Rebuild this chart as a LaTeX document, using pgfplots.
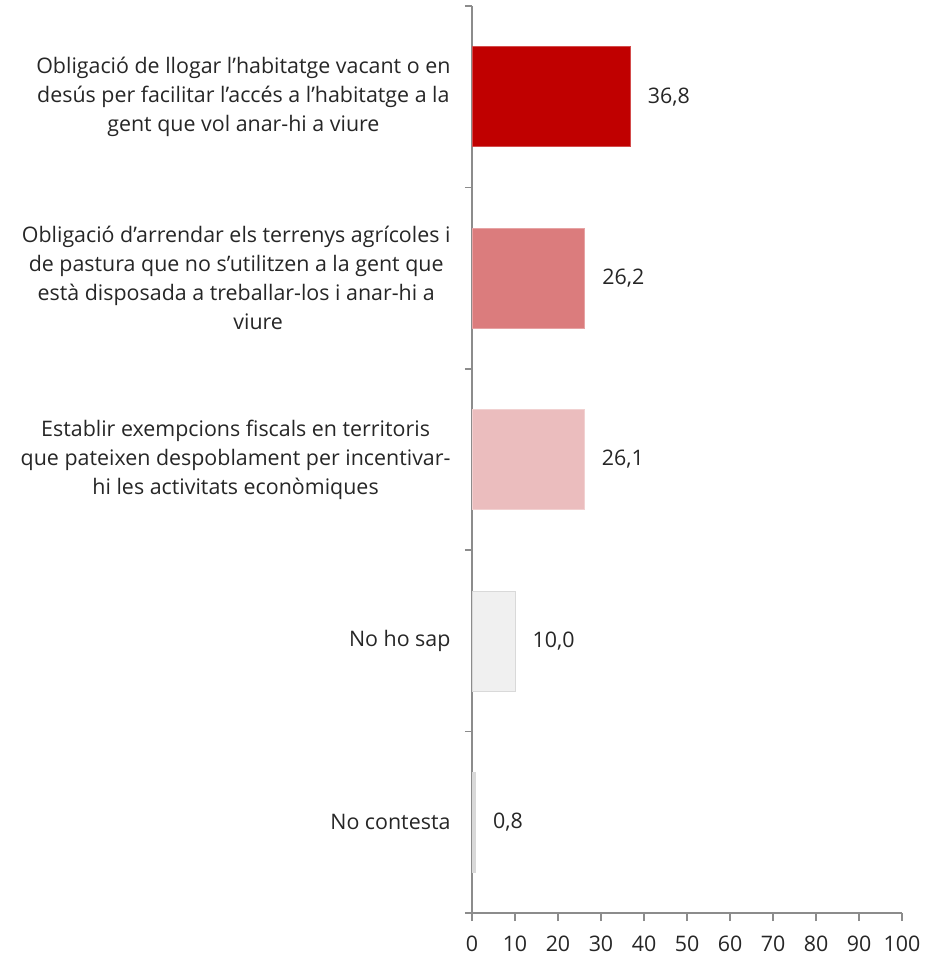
\documentclass[border=0pt]{standalone}
\usepackage{pgfplots}
\pgfplotsset{compat=1.18}
\usepackage{fontspec}
\setmainfont{Open Sans}
\pgfkeys{/pgf/number format/assume math mode=true}
\definecolor{axisgray}{HTML}{8C8C8C}
\definecolor{txt}{HTML}{262626}
\definecolor{cA}{HTML}{C00000}
\definecolor{cB}{HTML}{DB7C7D}
\definecolor{cC}{HTML}{EBBDBE}
\definecolor{cD}{HTML}{F0F0F0}
\definecolor{cE}{HTML}{D9D9D9}
\begin{document}
\begin{tikzpicture}
\begin{axis}[
  scale only axis,
  width=430bp, height=907bp,
  xbar, bar width=100bp, bar shift=0pt,
  y dir=reverse,
  xmin=0, xmax=100, ymin=-0.5, ymax=4.5,
  axis lines*=left,
  axis line style={draw=axisgray, line width=1.5bp, -},
  tick align=outside,
  xtick={0,10,...,100},
  major tick length=8bp,
  minor tick length=7bp,
  major x tick style={draw=axisgray, line width=1.5bp},
  major y tick style={draw=none},
  minor y tick style={draw=axisgray, line width=1.5bp},
  ytick={0,1,2,3,4},
  minor ytick={-0.5,0.5,1.5,2.5,3.5,4.5},
  yticklabels={
    {Obligació de llogar l’habitatge vacant o en\\desús per facilitar l’accés a l’habitatge a la\\gent que vol anar-hi a viure},
    {Obligació d’arrendar els terrenys agrícoles i\\de pastura que no s’utilitzen a la gent que\\està disposada a treballar-los i anar-hi a\\\hspace*{44bp}viure},
    {Establir exempcions fiscals en territoris\\que pateixen despoblament per incentivar-\\hi les activitats econòmiques},
    {No ho sap},
    {No contesta}},
  yticklabel style={align=center, font=\fontsize{21.4bp}{29bp}\selectfont, text=txt, xshift=-10bp},
  xticklabel style={font=\fontsize{21.4bp}{29bp}\selectfont, text=txt, yshift=-11bp},
  nodes near coords={\pgfmathprintnumber[fixed, fixed zerofill, precision=1, use comma]{\pgfplotspointmeta}},
  nodes near coords align=horizontal,
  every node near coord/.append style={font=\fontsize{21.4bp}{29bp}\selectfont, text=txt, anchor=west, xshift=14bp},
  clip=false,
]
\addplot[fill=cA, draw=cA!70!white, line width=0.6bp] coordinates {(36.8,0)};
\addplot[fill=cB, draw=cB!70!white, line width=0.6bp] coordinates {(26.2,1)};
\addplot[fill=cC, draw=cC!70!white, line width=0.6bp] coordinates {(26.1,2)};
\addplot[fill=cD, draw=cE, line width=0.8bp] coordinates {(10.0,3)};
\addplot[fill=cE, draw=cE, line width=0.6bp] coordinates {(0.8,4)};
\end{axis}
\pgfresetboundingbox
\path[use as bounding box] (current axis.south west) ++(-472bp,-42bp) rectangle ++(941bp,955bp);
\end{tikzpicture}
\end{document}
